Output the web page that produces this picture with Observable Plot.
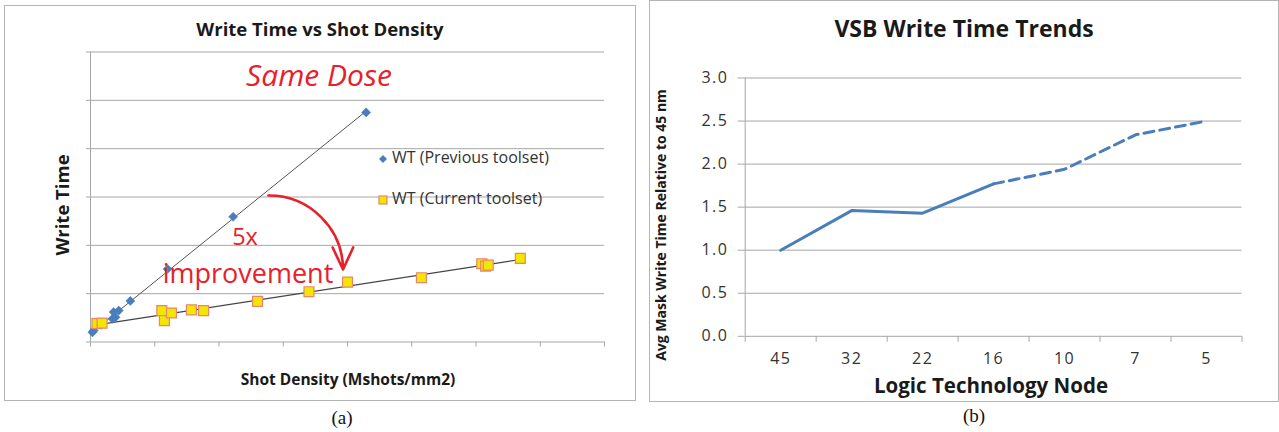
<!DOCTYPE html>
<html>
<head>
<meta charset="utf-8">
<script src="https://cdn.jsdelivr.net/npm/d3@7"></script>
<script src="https://cdn.jsdelivr.net/npm/@observablehq/plot@0.6"></script>
<style>
  html, body { margin: 0; padding: 0; background: #fff; }
  body { width: 1279px; height: 432px; position: relative; overflow: hidden; font-family: "Open Sans", Lato, sans-serif; }
  .panel { position: absolute; box-sizing: border-box; border: 1px solid #b4b4b4; }
  .panel svg { position: absolute; left: 0; top: 0; }
  .lbl { position: absolute; white-space: nowrap; transform: translate(-50%, -50%); line-height: 1; }
  .rot { transform: translate(-50%, -50%) rotate(-90deg); }
  .cap { position: absolute; font-family: "Liberation Serif", "DejaVu Serif", serif; font-size: 19px; color: #111; transform: translate(-50%, -50%); line-height: 1; }
  .leg { position: absolute; font-size: 16px; color: #333; white-space: nowrap; line-height: 1; transform: translateY(-50%); }
  .leg svg { position: static; vertical-align: middle; margin-right: 4px; }
</style>
</head>
<body>
<div id="pa" class="panel" style="left:4px; top:5px; width:632px; height:396px;"></div>
<div id="pb" class="panel" style="left:649px; top:0px; width:630px; height:402px;"></div>
<div class="cap" style="left:342px; top:417px;">(a)</div>
<div class="cap" style="left:974px; top:415px;">(b)</div>
<script>
// ---------- Panel (a): Write Time vs Shot Density (axes unlabeled) ----------
const prevX = [0.03, 0.05, 0.34, 0.39, 0.36, 0.44, 0.62, 1.20, 2.22, 4.29];
const prevY = [0.20, 0.24, 0.48, 0.51, 0.62, 0.65, 0.85, 1.51, 2.59, 4.75];
const currX = [0.10, 0.18, 1.11, 1.15, 1.26, 1.57, 1.76, 2.60, 3.40, 4.00, 5.15, 6.09, 6.15, 6.19, 6.69];
const currY = [0.38, 0.39, 0.65, 0.44, 0.60, 0.665, 0.65, 0.84, 1.04, 1.24, 1.33, 1.62, 1.57, 1.59, 1.73];
const aXTicks = [0, 1, 2, 3, 4, 5, 6, 7, 8];
const aYTicks = [0, 1, 2, 3, 4, 5, 6];
const seriesNames = ["WT (Previous toolset)", "WT (Current toolset)"];
const arrowAnno = [{x1: 2.77, y1: 3.03, x2: 3.93, y2: 1.50}];

// ---------- Panel (b): VSB Write Time Trends ----------
const nodes = ["45", "32", "22", "16", "10", "7", "5"];
const writeTime = [1.00, 1.46, 1.43, 1.77, 1.94, 2.34, 2.50];
const solidUpTo = 3; // index of "16": solid before, dashed after
const bYTicks = [0, 0.5, 1, 1.5, 2, 2.5, 3];

const prev = prevX.map((x, i) => ({x, y: prevY[i]}));
const curr = currX.map((x, i) => ({x, y: currY[i]}));

const blue = "#4a7ebb";
const red = "#e8202a";
const grid = "#a6a6a6";

const plotA = Plot.plot({
  width: 630, height: 394,
  marginLeft: 85, marginRight: 31, marginTop: 45.5, marginBottom: 58.5,
  style: {fontFamily: "'Open Sans', sans-serif", fontSize: "12px", color: "#333", background: "transparent"},
  x: {domain: [0, 8], axis: null},
  y: {domain: [0, 6], axis: null},
  marks: [
    Plot.ruleY(aYTicks.filter(d => d > 0), {stroke: grid, strokeWidth: 1}),
    Plot.axisY({ticks: aYTicks, tickSize: 4, tickFormat: () => "", stroke: grid, label: null}),
    Plot.axisX({ticks: aXTicks, tickSize: 5, tickFormat: () => "", stroke: grid, label: null}),
    Plot.ruleX([0], {stroke: grid}),
    Plot.ruleY([0], {stroke: grid}),
    Plot.linearRegressionY(prev, {x: "x", y: "y", stroke: "#555", strokeWidth: 1, ci: 0}),
    Plot.linearRegressionY(curr, {x: "x", y: "y", stroke: "#444", strokeWidth: 1.2, ci: 0}),
    Plot.dot(prev, {x: "x", y: "y", symbol: "diamond2", r: 4.1, fill: blue, stroke: blue, strokeWidth: 0.5}),
    Plot.dot(curr, {x: "x", y: "y", symbol: "square", r: 5.6, fill: "#f3e600", stroke: "#e8866e", strokeWidth: 1.2}),
    Plot.arrow(arrowAnno, {x1: "x1", y1: "y1", x2: "x2", y2: "y2", bend: 45, stroke: red, strokeWidth: 2.6, headLength: 14, headAngle: 50})
  ]
});
const pa = document.getElementById("pa");
pa.appendChild(plotA);

function addLabel(parent, html, x, y, style, cls) {
  const d = document.createElement("div");
  d.className = cls || "lbl";
  d.innerHTML = html;
  d.style.left = x + "px";
  d.style.top = y + "px";
  Object.assign(d.style, style || {});
  parent.appendChild(d);
  return d;
}
// panel a content origin = page (5,6)
addLabel(pa, "Write Time vs Shot Density", 315, 23, {fontSize: "18.5px", fontWeight: "bold", color: "#1a1a1a"});
addLabel(pa, "Same Dose", 314, 69, {fontSize: "30px", fontStyle: "italic", color: red});
addLabel(pa, "5x", 240, 230.5, {fontSize: "23.5px", color: red});
addLabel(pa, "improvement", 243, 266, {fontSize: "27px", color: red});
addLabel(pa, "Write Time", 57, 199, {fontSize: "18.5px", fontWeight: "bold", color: "#1a1a1a"}, "lbl rot");
addLabel(pa, "Shot Density (Mshots/mm2)", 343, 374, {fontSize: "15.5px", fontWeight: "bold", color: "#1a1a1a"});
const diamondSvg = '<svg width="10" height="10" viewBox="-5 -5 10 10"><path d="M0,-4L4,0L0,4L-4,0Z" fill="' + blue + '"/></svg>';
const squareSvg = '<svg width="10" height="10" viewBox="-5 -5 10 10"><rect x="-4" y="-4" width="8" height="8" fill="#f3e600" stroke="#e8866e" stroke-width="1.2"/></svg>';
addLabel(pa, diamondSvg + seriesNames[0], 373, 151, {}, "leg");
addLabel(pa, squareSvg + seriesNames[1], 373, 192, {}, "leg");

// ---------- Panel (b) plot ----------
const trend = nodes.map((n, i) => ({i, pos: i + 0.5, node: n, v: writeTime[i]}));
const plotB = Plot.plot({
  width: 628, height: 400,
  marginLeft: 94.7, marginRight: 36.5, marginTop: 76.5, marginBottom: 65.2,
  style: {fontFamily: "'Open Sans', sans-serif", fontSize: "16px", letterSpacing: "1.4px", color: "#333", background: "transparent"},
  x: {domain: [0, nodes.length], axis: null},
  y: {domain: [0, 3], axis: null},
  marks: [
    Plot.ruleY(bYTicks.filter(d => d > 0), {stroke: grid, strokeWidth: 1}),
    Plot.axisY({ticks: bYTicks, tickSize: 7, tickPadding: 10, tickFormat: d3.format(".1f"), stroke: grid, label: null}),
    Plot.axisX({ticks: d3.range(nodes.length + 1), tickSize: 6, tickFormat: () => "", stroke: grid, label: null}),
    Plot.axisX({ticks: trend.map(d => d.pos), tickSize: 0, tickPadding: 16, tickFormat: (d) => nodes[Math.floor(d)], label: null}),
    Plot.ruleX([0], {stroke: grid}),
    Plot.ruleY([0], {stroke: grid}),
    Plot.line(trend.filter(d => d.i <= solidUpTo), {x: "pos", y: "v", stroke: blue, strokeWidth: 3}),
    Plot.line(trend.filter(d => d.i >= solidUpTo), {x: "pos", y: "v", stroke: blue, strokeWidth: 3, strokeDasharray: "10,6"})
  ]
});
const pb = document.getElementById("pb");
pb.appendChild(plotB);
// panel b content origin = page (650,1)
addLabel(pb, "VSB Write Time Trends", 314, 27, {fontSize: "23px", fontWeight: "bold", color: "#1a1a1a"});
addLabel(pb, "Avg Mask Write Time Relative to 45 nm", 11, 224, {fontSize: "14px", fontWeight: "bold", color: "#1a1a1a"}, "lbl rot");
addLabel(pb, "Logic Technology Node", 341, 384, {fontSize: "20.5px", fontWeight: "bold", color: "#1a1a1a"});
</script>
</body>
</html>
